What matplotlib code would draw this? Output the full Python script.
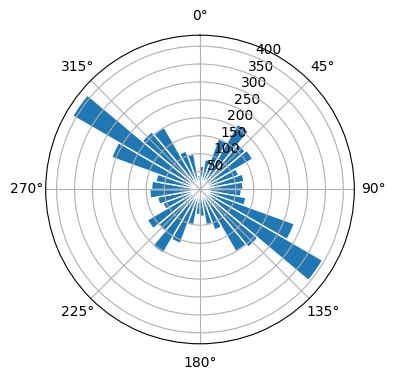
import numpy as np
import matplotlib
matplotlib.use("Agg")
import matplotlib.pyplot as plt

# bin centres (degrees, compass, clockwise from north)
angles_deg = [5, 15, 25, 35, 45, 55, 65, 75, 85,
              95, 105, 115, 125, 135, 145, 155, 165, 175,
              185, 195, 205, 215, 225, 235, 245, 255, 265,
              275, 285, 295, 305, 315, 325, 335, 345, 355]
counts = [65, 85, 150, 210, 165, 170, 115, 125, 120,
          115, 130, 280, 395, 210, 200, 120, 100, 75,
          70, 100, 160, 205, 150, 170, 110, 120, 140,
          135, 125, 262, 410, 210, 200, 114, 100, 40]

theta = np.deg2rad(angles_deg)
width = np.deg2rad(10)

fig = plt.figure(figsize=(3.96, 3.80), dpi=100)
ax = fig.add_axes([0.1154, 0.0953, 0.7793, 0.8121], projection="polar")
ax.set_theta_zero_location("N")
ax.set_theta_direction(-1)
ax.bar(theta, counts, width=width, color="#1f77b4", edgecolor="white", linewidth=1)
ax.set_rticks([50, 100, 150, 200, 250, 300, 350, 400])
fig.savefig("out.png", dpi=100)
